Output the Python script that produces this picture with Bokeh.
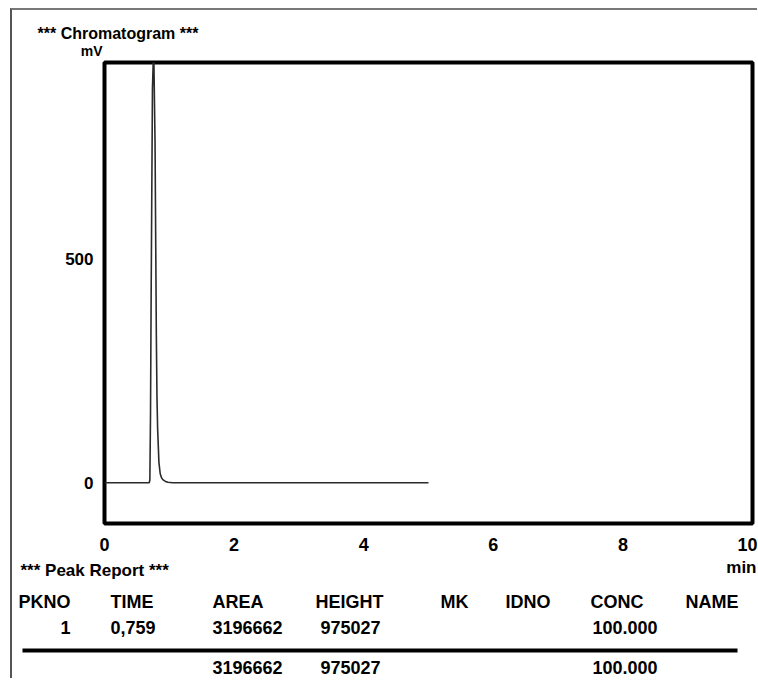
from bokeh.plotting import figure
from bokeh.models import Range1d, FixedTicker, ColumnDataSource
from bokeh.layouts import column
from bokeh.embed import file_html
from bokeh.resources import INLINE
from bokeh.core.properties import value

# ---- chromatogram data (retention time in min, detector signal in mV) ----
time_min = [0.0, 0.69, 0.70, 0.71, 0.72, 0.74, 0.759, 0.78, 0.80, 0.81, 0.82,
            0.84, 0.86, 0.88, 0.90, 0.94, 0.98, 1.05, 5.0]
signal_mV = [0, 0, 6, 150, 420, 880, 975, 760, 330, 190, 120,
             45, 20, 11, 7, 3, 1, 0, 0]

x_ticks = [0, 2, 4, 6, 8, 10]
y_ticks = [0, 500]

# ---- peak report ----
report_headers = ["PKNO", "TIME", "AREA", "HEIGHT", "MK", "IDNO", "CONC", "NAME"]
peak_no = [1]
peak_time = [0.759]
peak_area = [3196662]
peak_height = [975027]
peak_conc = [100.000]
total_area = 3196662
total_height = 975027
total_conc = 100.000

FONT = "Liberation Sans"
FIG_W = 745
X0, Y0 = 12, 10   # page position of the figures' top-left corner

def blank(height, y_top):
    f = figure(width=FIG_W, height=height,
               x_range=Range1d(X0, X0 + FIG_W), y_range=Range1d(y_top + height, y_top),
               output_backend="svg", toolbar_location=None, min_border=0,
               x_axis_location=None, y_axis_location=None)
    f.frame_align = False
    f.grid.visible = False
    f.outline_line_color = None
    f.background_fill_color = "white"
    f.border_fill_color = "white"
    return f

common = dict(text_font=value(FONT), text_font_style="bold", text_color="black",
              text_baseline="middle")

# ================= heading (title + unit) =================
HEAD_H = 49
h = blank(HEAD_H, Y0)
h.text(x=[37], y=[33], text=["*** Chromatogram ***"], text_font_size="16px",
       text_align="left", **common)
h.text(x=[102], y=[50], text=["mV"], text_font_size="14px", text_align="right", **common)

# ================= chart =================
CHART_H = 497
p = figure(width=FIG_W, height=CHART_H, x_range=Range1d(0, 10), y_range=Range1d(-91, 938),
           output_backend="svg", toolbar_location=None,
           min_border_left=92, min_border_right=5, min_border_top=3, min_border_bottom=33)
p.frame_align = False
p.background_fill_color = "white"
p.border_fill_color = "white"
p.grid.visible = False
p.outline_line_color = "black"
p.outline_line_width = 4

for ax, ticks, size, standoff in ((p.xaxis, x_ticks, "18px", 14), (p.yaxis, y_ticks, "17px", 11)):
    ax.ticker = FixedTicker(ticks=ticks)
    ax.axis_line_color = None
    ax.major_tick_line_color = None
    ax.minor_tick_line_color = None
    ax.major_tick_out = 0
    ax.major_tick_in = 0
    ax.major_label_text_font = FONT
    ax.major_label_text_font_style = "bold"
    ax.major_label_text_font_size = size
    ax.major_label_text_color = "black"
    ax.major_label_standoff = standoff

p.line(time_min, signal_mV, line_color="#2b2b2b", line_width=1.6)

# ================= peak report table =================
TABLE_TOP = Y0 + HEAD_H + CHART_H
t = blank(122, TABLE_TOP)

header_x = [18, 110, 212, 315, 440, 505, 590, 685]
header_y = 601
row_y = 627
total_y = 667

t.text(x=header_x, y=[header_y] * len(report_headers), text=report_headers,
       text_font_size="18px", text_align="left", **common)

cells = {"x": [], "y": [], "text": [], "align": []}
for n, tm, ar, ht, cc in zip(peak_no, peak_time, peak_area, peak_height, peak_conc):
    cells["x"] += [70, 110, 212, 320, 592]
    cells["y"] += [row_y] * 5
    cells["text"] += [str(n), f"{tm:.3f}".replace(".", ","), str(ar), str(ht), f"{cc:.3f}"]
    cells["align"] += ["right", "left", "left", "left", "left"]
cells["x"] += [212, 320, 592]
cells["y"] += [total_y] * 3
cells["text"] += [str(total_area), str(total_height), f"{total_conc:.3f}"]
cells["align"] += ["left", "left", "left"]
t.text(x="x", y="y", text="text", text_align="align", source=ColumnDataSource(cells),
       text_font_size="18px", **common)

t.line([22, 737], [650, 650], line_color="black", line_width=4)

t.text(x=[20], y=[570], text=["*** Peak Report ***"], text_font_size="17px",
       text_align="left", **common)
t.text(x=[756], y=[567], text=["min"], text_font_size="17px", text_align="right", **common)

layout = column(h, p, t, spacing=0,
                styles={"margin-left": "10px", "margin-top": "8px",
                        "border-left": "2px solid #555", "border-top": "2px solid #777"})

open("out.html", "w").write(file_html(layout, INLINE))
